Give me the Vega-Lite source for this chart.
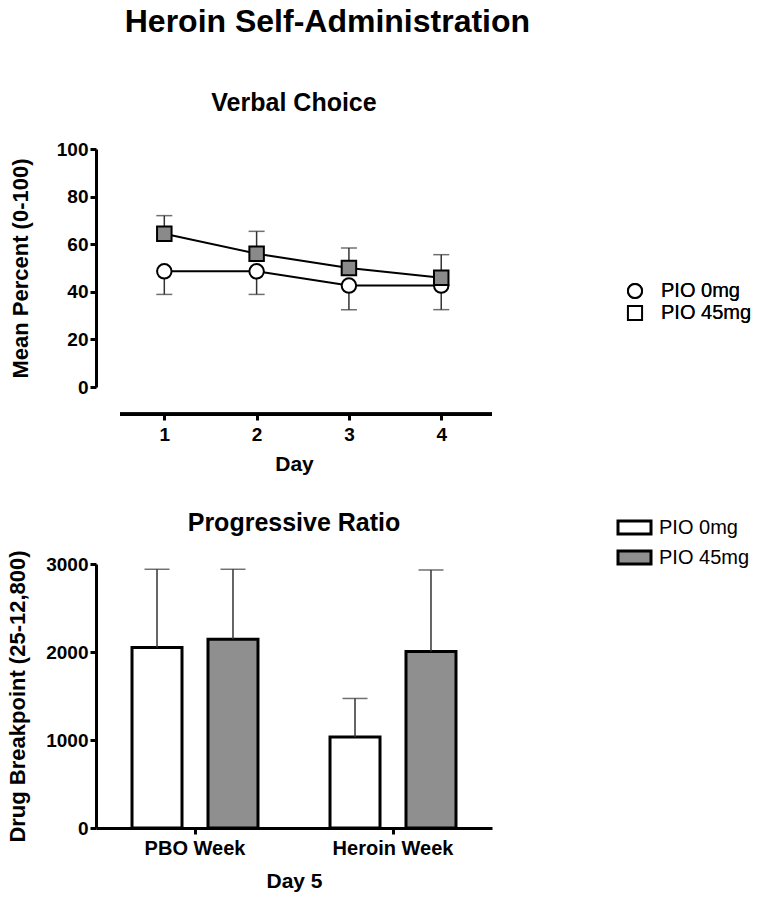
{
  "$schema": "https://vega.github.io/schema/vega-lite/v6.json",
  "padding": {"left": 6, "top": 6, "right": 0, "bottom": 4},
  "background": "white",
  "config": {
    "font": "Liberation Sans",
    "view": {"stroke": null},
    "axis": {
      "grid": false,
      "labelFont": "Liberation Sans",
      "titleFont": "Liberation Sans",
      "labelFontWeight": "bold",
      "titleFontWeight": "bold",
      "labelColor": "black",
      "titleColor": "black",
      "domainColor": "black",
      "tickColor": "black",
      "domainWidth": 3,
      "tickWidth": 3,
      "tickSize": 6,
      "labelFontSize": 19,
      "titleFontSize": 21
    },
    "legend": {"labelFont": "Liberation Sans", "labelColor": "black"},
    "title": {"font": "Liberation Sans", "color": "black", "fontWeight": "bold"}
  },
  "title": {"text": "Heroin Self-Administration", "fontSize": 32, "anchor": "start", "dx": 118, "offset": 52},
  "spacing": 37,
  "resolve": {"scale": {"fill": "independent"}},
  "vconcat": [
    {
      "width": 396,
      "height": 238,
      "title": {"text": "Verbal Choice", "fontSize": 25, "offset": 24},
      "data": {"values": [
        {"day": 1, "series": "PIO 0mg", "mean": 48.6, "err_end": 38.9},
        {"day": 2, "series": "PIO 0mg", "mean": 48.6, "err_end": 38.9},
        {"day": 3, "series": "PIO 0mg", "mean": 42.6, "err_end": 32.5},
        {"day": 4, "series": "PIO 0mg", "mean": 42.6, "err_end": 32.5},
        {"day": 1, "series": "PIO 45mg", "mean": 64.4, "err_end": 72.0},
        {"day": 2, "series": "PIO 45mg", "mean": 56.0, "err_end": 65.4},
        {"day": 3, "series": "PIO 45mg", "mean": 50.0, "err_end": 58.4},
        {"day": 4, "series": "PIO 45mg", "mean": 45.9, "err_end": 55.6}
      ]},
      "encoding": {
        "x": {"field": "day", "type": "quantitative",
          "scale": {"domain": [0.26, 4.55], "nice": false, "zero": false},
          "axis": {"title": "Day", "values": [1, 2, 3, 4], "domain": false, "offset": 27, "labelPadding": 5, "titlePadding": 9}},
        "y": {"field": "mean", "type": "quantitative",
          "scale": {"domain": [0, 100], "nice": false},
          "axis": {"title": "Mean Percent (0-100)", "titleFontSize": 22, "values": [0, 20, 40, 60, 80, 100], "labelPadding": 2, "titlePadding": 24}}
      },
      "layer": [
        {"mark": {"type": "rule", "color": "#333333", "strokeWidth": 1.5},
         "encoding": {"y2": {"field": "err_end"}}},
        {"mark": {"type": "tick", "orient": "horizontal", "color": "#333333", "thickness": 1.5, "size": 16},
         "encoding": {"y": {"field": "err_end", "type": "quantitative"}}},
        {"mark": {"type": "line", "color": "black", "strokeWidth": 2},
         "encoding": {"detail": {"field": "series"}}},
        {"mark": {"type": "point", "filled": true, "stroke": "black", "strokeWidth": 2, "opacity": 1, "size": 210},
         "encoding": {
           "shape": {"field": "series", "type": "nominal",
             "scale": {"domain": ["PIO 0mg", "PIO 45mg"], "range": ["circle", "square"]},
             "legend": {"title": null, "orient": "none", "legendX": 529, "legendY": 132,
               "labelFontSize": 20, "labelFontWeight": "normal", "labelOffset": 16, "rowPadding": -4,
               "symbolSize": 200, "symbolStrokeWidth": 2, "symbolStrokeColor": "black", "symbolFillColor": "white"}},
           "fill": {"field": "series", "type": "nominal",
             "scale": {"domain": ["PIO 0mg", "PIO 45mg"], "range": ["white", "#8a8a8a"]},
             "legend": {"title": null, "orient": "none", "legendX": 529, "legendY": 132,
               "labelFontSize": 20, "labelFontWeight": "normal", "labelOffset": 16, "rowPadding": -4,
               "symbolSize": 200, "symbolStrokeWidth": 2, "symbolStrokeColor": "black", "symbolFillColor": "white"}}
         }},
        {"mark": {"type": "rule", "color": "black", "strokeWidth": 3},
         "encoding": {"x": {"datum": 0.52, "type": "quantitative"}, "x2": {"datum": 4.55}, "y": {"datum": -11.4, "type": "quantitative"}}}
      ]
    },
    {
      "width": 396,
      "height": 264,
      "title": {"text": "Progressive Ratio", "fontSize": 25, "offset": -20},
      "data": {"values": [
        {"week": "PBO Week", "series": "PIO 0mg", "mean": 2050, "err_end": 2940},
        {"week": "PBO Week", "series": "PIO 45mg", "mean": 2145, "err_end": 2940},
        {"week": "Heroin Week", "series": "PIO 0mg", "mean": 1035, "err_end": 1472},
        {"week": "Heroin Week", "series": "PIO 45mg", "mean": 2005, "err_end": 2932}
      ]},
      "encoding": {
        "x": {"field": "week", "type": "nominal", "sort": null,
          "scale": {"paddingInner": 0, "paddingOuter": 0},
          "axis": {"title": "Day 5", "labelAngle": 0, "labelPadding": 4, "titlePadding": 12, "labelFontSize": 20}},
        "xOffset": {"field": "series", "type": "nominal", "sort": null,
          "scale": {"paddingInner": 0.342, "paddingOuter": 0.474}},
        "y": {"field": "mean", "type": "quantitative",
          "scale": {"domain": [0, 3000], "nice": false},
          "axis": {"title": "Drug Breakpoint (25-12,800)", "titleFontSize": 22, "format": "d", "values": [0, 1000, 2000, 3000], "labelPadding": 2, "titlePadding": 16}}
      },
      "layer": [
        {"mark": {"type": "bar", "stroke": "black", "strokeWidth": 3},
         "encoding": {
           "fill": {"field": "series", "type": "nominal",
             "scale": {"domain": ["PIO 0mg", "PIO 45mg"], "range": ["white", "#8f8f8f"]},
             "legend": {"title": null, "orient": "none", "legendX": 527, "legendY": -48,
               "labelFontSize": 20, "labelFontWeight": "normal", "labelOffset": 13, "rowPadding": 5,
               "symbolSize": 400, "symbolStrokeWidth": 3, "symbolStrokeColor": "black",
               "symbolType": "M-1.65,-0.65H1.65V0.65H-1.65Z"}}
         }},
        {"mark": {"type": "rule", "color": "#333333", "strokeWidth": 1.5},
         "encoding": {"y2": {"field": "err_end"}}},
        {"mark": {"type": "tick", "orient": "horizontal", "color": "#333333", "thickness": 1.5, "size": 25},
         "encoding": {"y": {"field": "err_end", "type": "quantitative"}}}
      ]
    }
  ]
}
